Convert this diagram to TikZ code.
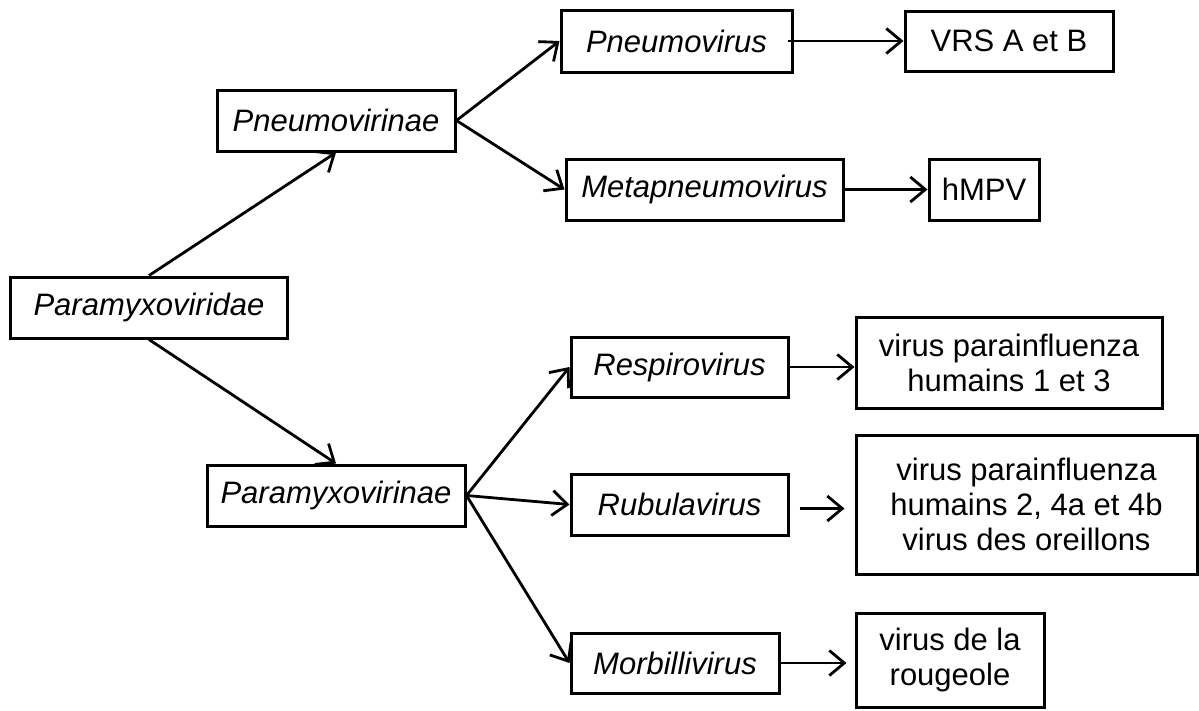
\documentclass[tikz,border=0pt]{standalone}
\usepackage{fontspec}
\setmainfont{Liberation Sans}
\usetikzlibrary{arrows.meta}

\begin{document}
\begin{tikzpicture}[x=1pt,y=-1pt,
    font=\fontsize{31}{35}\selectfont,
    taxon/.style={draw,line width=3pt,inner sep=0pt,align=center},
    link/.style={line width=2.8pt,-{Straight Barb[length=15pt,width=25pt]}}]
  \useasboundingbox (0,0) rectangle (1199,710);

  % family and subfamilies
  \node[taxon,minimum width=277pt,minimum height=61pt] (viridae) at (149,307.5) {\itshape Paramyxoviridae};
  \node[taxon,minimum width=238pt,minimum height=61pt] (pneumoinae) at (336,120.5) {\itshape Pneumovirinae};
  \node[taxon,minimum width=258pt,minimum height=61pt] (paramyxoinae) at (336,495.5) {\itshape Paramyxovirinae};

  % genera
  \node[taxon,minimum width=231pt,minimum height=62pt] (pneumo) at (676.5,41) {\itshape Pneumovirus};
  \node[taxon,minimum width=277pt,minimum height=61pt] (metapneumo) at (704.5,189.5) {\itshape Metapneumovirus};
  \node[taxon,minimum width=217pt,minimum height=60pt] (respiro) at (679.5,367) {\itshape Respirovirus};
  \node[taxon,minimum width=217pt,minimum height=61pt] (rubula) at (679.5,504.5) {\itshape Rubulavirus};
  \node[taxon,minimum width=208pt,minimum height=60pt] (morbilli) at (675,663) {\itshape Morbillivirus};

  % species
  \node[taxon,minimum width=208pt,minimum height=60pt] (vrs) at (1009,41) {VRS A et B};
  \node[taxon,minimum width=110pt,minimum height=61pt] (hmpv) at (984,189.5) {hMPV};
  \node[taxon,minimum width=306pt,minimum height=91pt] (vpia) at (1009,362.5) {virus parainfluenza\\humains 1 et 3};
  \node[taxon,minimum width=341pt,minimum height=139pt] (vpib) at (1026.5,504.5) {virus parainfluenza\\humains 2, 4a et 4b\\virus des oreillons};
  \node[taxon,minimum width=188pt,minimum height=94pt] (rougeole) at (950,660) {virus de la\\rougeole};

  \draw[link] (viridae.north) -- (pneumoinae.south);
  \draw[link] (viridae.south) -- (paramyxoinae.north);
  \foreach \g in {pneumo,metapneumo} {
    \draw[link] (pneumoinae.east) -- (\g.west);
  }
  \foreach \g in {respiro,rubula,morbilli} {
    \draw[link] (paramyxoinae.east) -- (\g.west);
  }

  \draw[link] ([xshift=-6pt]pneumo.east) -- (vrs.west);
  \draw[link] (metapneumo.east) -- (hmpv.west);
  \draw[link] (respiro.east) -- (respiro.east -| vpia.west);
  \draw[link,shorten <=10pt,shorten >=10pt] ([yshift=-4pt]rubula.east) -- ([yshift=-4pt]vpib.west);
  \draw[link,shorten >=8pt] (morbilli.east) -- (morbilli.east -| rougeole.west);
\end{tikzpicture}
\end{document}
